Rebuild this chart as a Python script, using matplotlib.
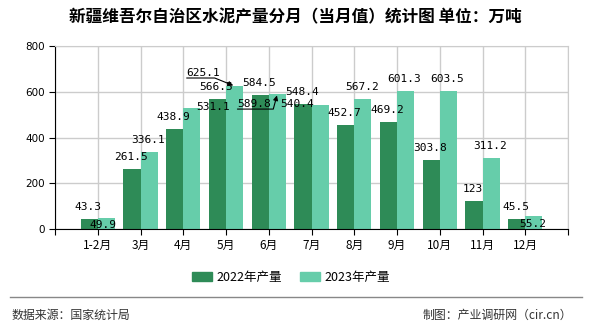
import numpy as np
import matplotlib.pyplot as plt
from matplotlib.lines import Line2D

plt.rcParams['font.family'] = ['Noto Sans CJK SC', 'DejaVu Sans']

# data
months = ['1-2月', '3月', '4月', '5月', '6月', '7月', '8月', '9月', '10月', '11月', '12月']
prod_2022 = [43.3, 261.5, 438.9, 566.5, 584.5, 548.4, 452.7, 469.2, 303.8, 123, 45.5]
prod_2023 = [49.9, 336.1, 531.1, 625.1, 589.8, 540.4, 567.2, 601.3, 603.5, 311.2, 55.2]

c22 = '#2e8b57'
c23 = '#66cdaa'
mono = ['DejaVu Sans Mono']

fig = plt.figure(figsize=(5.9, 3.3), dpi=100)
ax = fig.add_axes([55/590, 1-229/330, (568-55)/590, (229-46)/330])

x = np.arange(len(months))
w = 0.4
ax.bar(x - w/2, prod_2022, w, color=c22, zorder=2)
ax.bar(x + w/2, prod_2023, w, color=c23, zorder=2)

# value labels (pixel offsets from the bar top)
off22 = {}
off23 = {0: (-3, -7), 2: (21, 1), 5: (-23, 1), 10: (-1, -8)}
for i, v in enumerate(prod_2022):
    dx, dy = off22.get(i, (-1, 12))
    ax.annotate(f'{v:g}', (x[i] - w/2, v), xytext=(dx, dy), textcoords='offset pixels',
                ha='center', va='center', fontsize=8, family=mono)
for i, v in enumerate(prod_2023):
    if i in (3, 4):
        continue
    dx, dy = off23.get(i, (-1, 12))
    ax.annotate(f'{v:g}', (x[i] + w/2, v), xytext=(dx, dy), textcoords='offset pixels',
                ha='center', va='center', fontsize=8, family=mono)

# labels moved away with leader lines (underline + arrow)
dummy = plt.Rectangle((0, 0), 0, 0)
for i, (dx, dy, ang) in {3: (-31, 13, -22), 4: (-23, -10, 75)}.items():
    v = prod_2023[i]
    ax.annotate(f'{v:g}', (x[i] + w/2, v), xytext=(dx, dy), textcoords='offset pixels',
                ha='center', va='center', fontsize=8, family=mono,
                arrowprops=dict(arrowstyle='-|>', color='black', lw=0.8, mutation_scale=7,
                                shrinkA=0, shrinkB=1, relpos=(0, 0), patchA=dummy,
                                connectionstyle=f'angle,angleA=0,angleB={ang},rad=0'))

ax.set_xlim(-1, 11)
ax.set_ylim(0, 800)
ax.set_yticks(range(0, 801, 200))
ax.set_xticks(range(-1, 12))
ax.set_xticklabels([''] + months + [''])
ax.grid(True, color='#cccccc', lw=1, zorder=0)
ax.set_axisbelow(True)
for s in ['top', 'right']:
    ax.spines[s].set_color('#cccccc')
ax.tick_params(axis='both', length=4, colors='black')
ax.tick_params(axis='x', labelsize=8.5)
ax.tick_params(axis='y', labelsize=7.5)
for t in ax.get_yticklabels():
    t.set_family(['DejaVu Sans'])

fig.text(295/590, 1-17/330, '新疆维吾尔自治区水泥产量分月（当月值）统计图 单位：万吨',
         ha='center', va='center', fontsize=12, fontweight='bold')

h = [plt.Rectangle((0, 0), 1, 1, color=c22), plt.Rectangle((0, 0), 1, 1, color=c23)]
fig.legend(h, ['2022年产量', '2023年产量'], loc='center', bbox_to_anchor=(291/590, 1-277/330),
           ncol=2, frameon=False, fontsize=9, handlelength=1.6, handleheight=0.7,
           columnspacing=1.4, handletextpad=0.35)

fig.add_artist(Line2D([10/590, 582/590], [1-297/330]*2, color='#888888', lw=1))
fig.text(12/590, 1-315/330, '数据来源：国家统计局', ha='left', va='center', fontsize=8.6, color='#333333')
fig.text(572/590, 1-315/330, '制图：产业调研网（cir.cn）', ha='right', va='center', fontsize=8.6, color='#333333')

fig.savefig('out.png', dpi=100)
